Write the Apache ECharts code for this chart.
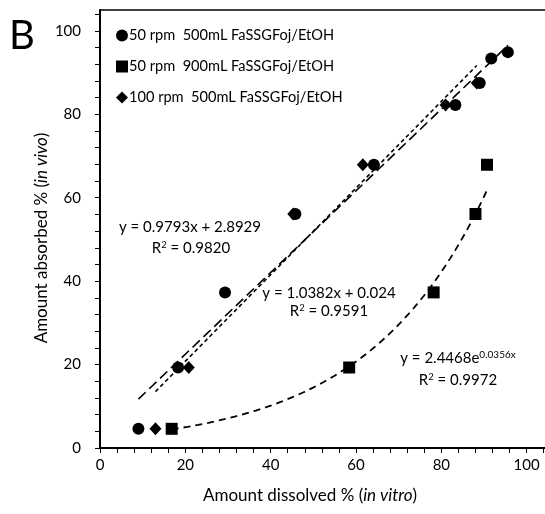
<!DOCTYPE html>
<html>
<head>
<meta charset="utf-8">
<script src="https://cdn.jsdelivr.net/npm/echarts@6/dist/echarts.min.js"></script>
<style>
html,body{margin:0;padding:0;background:#fff;overflow:hidden;}
#chart{width:560px;height:514px;}
</style>
</head>
<body>
<div id="chart"></div>
<script>
// ---- data ----
var seriesNames = ['50 rpm  500mL FaSSGFoj/EtOH', '50 rpm  900mL FaSSGFoj/EtOH', '100 rpm  500mL FaSSGFoj/EtOH'];

var circleX = [9.0, 18.3, 29.3, 45.8, 64.2, 83.3, 89.0, 91.7, 95.6];
var circleY = [4.6, 19.3, 37.3, 56.1, 67.9, 82.2, 87.5, 93.4, 94.9];

var squareX = [16.8, 58.4, 78.2, 88.0, 90.7];
var squareY = [4.6, 19.3, 37.3, 56.1, 67.9];

var diamondX = [13.0, 20.8, 45.3, 61.6, 81.0, 88.3];
var diamondY = [4.6, 19.3, 56.1, 67.9, 82.2, 87.5];

// trendline equations printed on the chart
var circleFit = [0.9793, 2.8929];     // y = a x + b
var diamondFit = [1.0382, 0.024];     // y = a x + b
var squareFit = [2.4468, 0.0356];     // y = a e^(b x)

var xTickLabels = [0, 20, 40, 60, 80, 100];
var yTickLabels = [0, 20, 40, 60, 80, 100];

// ---- build ----
function zip(xs, ys) { return xs.map(function (x, i) { return [x, ys[i]]; }); }
function linFit(xs, c) {
  var lo = Math.min.apply(null, xs), hi = Math.max.apply(null, xs);
  return [[lo, c[0] * lo + c[1]], [hi, c[0] * hi + c[1]]];
}
function expFit(xs, c) {
  var lo = Math.min.apply(null, xs), hi = Math.max.apply(null, xs), pts = [];
  for (var i = 0; i <= 60; i++) {
    var x = lo + (hi - lo) * i / 60;
    pts.push([x, c[0] * Math.exp(c[1] * x)]);
  }
  return pts;
}
var minorTicks = [];
for (var t = 0; t <= 104; t += 4) minorTicks.push(t);

var FONT = 'Lato';
var supStyle = { fontSize: 9.5, fontFamily: FONT, color: '#000', verticalAlign: 'top', padding: [0, 0, 6, 0] };
var eqStyle = { fontSize: 15, fontFamily: FONT, color: '#000' };
var chart = echarts.init(document.getElementById('chart'));
var option = {
  animation: false,
  backgroundColor: '#fff',
  textStyle: { fontFamily: FONT, color: '#000' },
  grid: { left: 100, top: 10, width: 448, height: 438, outerBoundsMode: 'none', containLabel: false, show: false },
  legend: {
    orient: 'vertical', left: 111, top: 23, itemGap: 16, itemWidth: 12, itemHeight: 12,
    textStyle: { fontFamily: FONT, fontSize: 14.6, color: '#000', padding: [0, 0, 0, -4] },
    data: [
      { name: seriesNames[0], icon: 'circle' },
      { name: seriesNames[1], icon: 'rect' },
      { name: seriesNames[2], icon: 'diamond' }
    ]
  },
  xAxis: [{
    type: 'value', min: 0, max: 105,
    axisLine: { show: true, onZero: false, lineStyle: { color: '#000', width: 2 } },
    axisTick: { show: true, length: 5, customValues: minorTicks, lineStyle: { color: '#000', width: 1 } },
    axisLabel: { customValues: xTickLabels, margin: 10, fontSize: 15, color: '#000', fontFamily: FONT },
    splitLine: { show: false }
  }, {
    type: 'value', min: 0, max: 105, position: 'top',
    axisLine: { show: true, onZero: false, lineStyle: { color: '#000', width: 1.5 } },
    axisTick: { show: false }, axisLabel: { show: false }, splitLine: { show: false }
  }],
  yAxis: {
    type: 'value', min: 0, max: 105,
    axisLine: { show: true, onZero: false, lineStyle: { color: '#000', width: 2 } },
    axisTick: { show: true, length: 5, customValues: minorTicks, lineStyle: { color: '#000', width: 1 } },
    axisLabel: { customValues: yTickLabels, margin: 19, fontSize: 15, color: '#000', fontFamily: FONT },
    splitLine: { show: false }
  },
  graphic: [
    { type: 'text', left: 9, top: 16, style: { text: 'B', fontSize: 40, fontFamily: FONT, fill: '#000' } },
    { type: 'text', x: 310, y: 496, style: { text: '{n|Amount dissolved % (}{i|in vitro}{n|)}', align: 'center', verticalAlign: 'middle',
      rich: { n: { fontSize: 17, fontFamily: FONT, color: '#000' }, i: { fontSize: 17, fontFamily: FONT, fontStyle: 'italic', color: '#000' } } } },
    { type: 'text', x: 42, y: 238, rotation: Math.PI / 2, style: { text: '{n|Amount absorbed % (}{i|in vivo}{n|)}', align: 'center', verticalAlign: 'middle',
      rich: { n: { fontSize: 17, fontFamily: FONT, color: '#000' }, i: { fontSize: 17, fontFamily: FONT, fontStyle: 'italic', color: '#000' } } } },
    { type: 'text', x: 190, y: 227, style: { text: 'y = 0.9793x + 2.8929', align: 'center', verticalAlign: 'middle', fontSize: 15, fontFamily: FONT, fill: '#000' } },
    { type: 'text', x: 191, y: 248, style: { text: '{n|R}{s|2}{n| = 0.9820}', align: 'center', verticalAlign: 'middle', rich: { n: eqStyle, s: supStyle } } },
    { type: 'text', x: 329, y: 293, style: { text: 'y = 1.0382x + 0.024', align: 'center', verticalAlign: 'middle', fontSize: 15, fontFamily: FONT, fill: '#000' } },
    { type: 'text', x: 329, y: 311, style: { text: '{n|R}{s|2}{n| = 0.9591}', align: 'center', verticalAlign: 'middle', rich: { n: eqStyle, s: supStyle } } },
    { type: 'text', x: 458, y: 358, style: { text: '{n|y = 2.4468e}{s|0.0356x}', align: 'center', verticalAlign: 'middle',
      rich: { n: eqStyle, s: { fontSize: 10, fontFamily: FONT, color: '#000', verticalAlign: 'top', padding: [0, 0, 6, 0] } } } },
    { type: 'text', x: 458, y: 380, style: { text: '{n|R}{s|2}{n| = 0.9972}', align: 'center', verticalAlign: 'middle', rich: { n: eqStyle, s: supStyle } } }
  ],
  series: [
    { name: 'fit1', type: 'line', data: linFit(circleX, circleFit), showSymbol: false, silent: true, z: 1,
      lineStyle: { color: '#000', width: 1.6, type: [10, 5] } },
    { name: 'fit3', type: 'line', data: linFit(diamondX, diamondFit), showSymbol: false, silent: true, z: 1,
      lineStyle: { color: '#000', width: 1.6, type: [4, 3] } },
    { name: 'fit2', type: 'line', data: expFit(squareX, squareFit), showSymbol: false, silent: true, z: 1,
      lineStyle: { color: '#000', width: 1.8, type: [7, 5] } },
    { name: seriesNames[0], type: 'scatter', data: zip(circleX, circleY), symbol: 'circle', symbolSize: 12, z: 3,
      itemStyle: { color: '#000', opacity: 1 } },
    { name: seriesNames[1], type: 'scatter', data: zip(squareX, squareY), symbol: 'rect', symbolSize: 12, z: 3,
      itemStyle: { color: '#000', opacity: 1 } },
    { name: seriesNames[2], type: 'scatter', data: zip(diamondX, diamondY), symbol: 'diamond', symbolSize: [12, 13], z: 3,
      itemStyle: { color: '#000', opacity: 1 } }
  ]
};
chart.setOption(option);
</script>
</body>
</html>
